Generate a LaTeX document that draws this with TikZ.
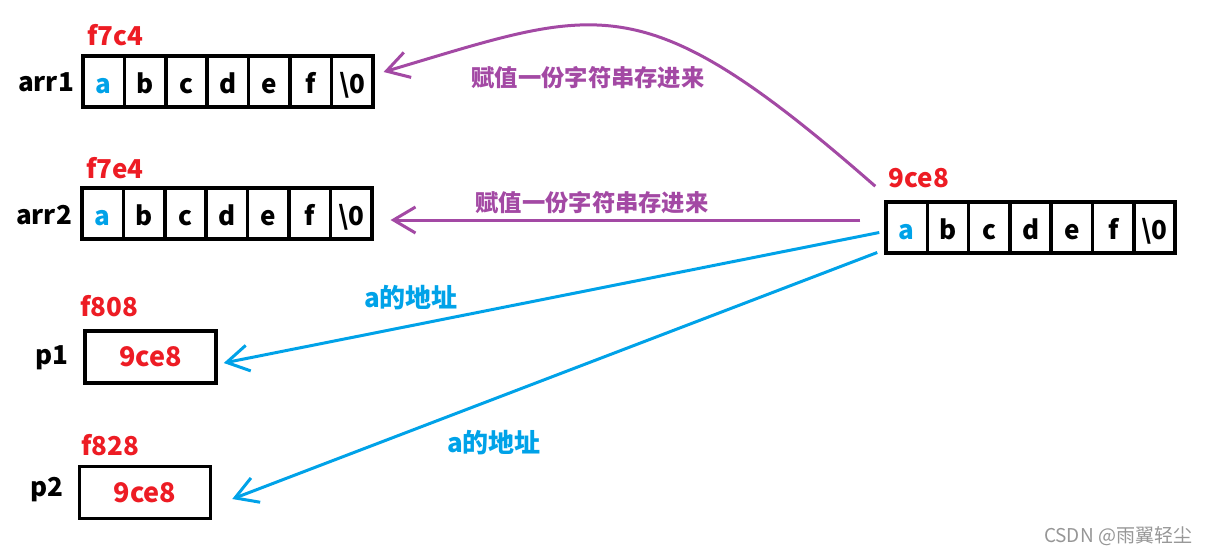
\documentclass[tikz,border=0pt]{standalone}
\usepackage{fontspec}
\setmainfont{Noto Sans CJK SC}
\usetikzlibrary{arrows.meta}
\definecolor{red}{RGB}{237,28,36}
\definecolor{blue}{RGB}{0,162,232}
\definecolor{purple}{RGB}{163,73,164}
\definecolor{gray}{RGB}{150,150,150}
\tikzset{
    cell/.style={draw, line width=3.5pt, minimum width=41.4pt, minimum height=51pt, inner sep=0pt,
        text height=23pt, text depth=0pt, font=\bfseries\fontsize{26}{26}\selectfont},
    ptr/.style={draw, line width=3.5pt, minimum width=131pt, minimum height=52pt, inner sep=0pt,
        text=red, font=\bfseries\fontsize{27}{27}\selectfont},
    lbl/.style={font=\bfseries\fontsize{26}{26}\selectfont},
    note/.style={font=\bfseries\fontsize{23.3}{23.3}\selectfont},
    tip/.style={line width=3pt, -{Straight Barb[length=22pt,width=26pt]}}
}

\begin{document}
\begin{tikzpicture}[x=1pt, y=-1pt]
    \useasboundingbox (0,0) rectangle (1212,554);
    % the three char arrays
    \foreach \ch/\col [count=\i] in {a/blue,b/black,c/black,d/black,e/black,f/black,\textbackslash0/black} {
        \node[cell, text=\col] (arr1-\i) at (62.3+41.4*\i, 81.5) {\ch};
        \node[cell, text=\col] (arr2-\i) at (61.3+41.4*\i, 213.5) {\ch};
        \node[cell, text=\col] (str-\i) at (865.4+41.3*\i, 227.5) {\ch};
    }
    \node[lbl] (arr1) at (46,82) {arr1};
    \node[lbl] (arr2) at (44,215) {arr2};
    \node[lbl, text=red] (addr1) at (115,35) {f7c4};
    \node[lbl, text=red] (addr2) at (115,168) {f7e4};
    \node[lbl, text=red] (addr3) at (919,178) {9ce8};
    % the two pointers
    \node[ptr] (p1) at (150.5,357) {9ce8};
    \node[ptr] (p2) at (145,492.5) {9ce8};
    \node[lbl] (p1name) at (52,358) {p1};
    \node[lbl] (p2name) at (47,490) {p2};
    \node[lbl, text=red] (addr4) at (109,306) {f808};
    \node[lbl, text=red] (addr5) at (110,445) {f828};
    % copies
    \draw[purple, tip] ([xshift=-9pt,yshift=14pt]str-1.north west) .. controls (640,-20) and (600,8) .. ([xshift=9pt,yshift=9.5pt]arr1-7.east);
    \draw[purple, tip] ([xshift=-24pt,yshift=7.5pt]str-1.west) -- ([xshift=17pt,yshift=-6.5pt]arr2-7.east);
    \node[note, text=purple] (copy1) at (588,78) {赋值一份字符串存进来};
    \node[note, text=purple] (copy2) at (592,203) {赋值一份字符串存进来};
    % addresses
    \draw[blue, tip] ([xshift=-5pt,yshift=-5pt]str-1.west) -- ([xshift=6pt,yshift=-6pt]p1.east);
    \draw[blue, tip] ([xshift=-7pt,yshift=-25pt]str-1.west) -- ([xshift=20pt,yshift=-6.5pt]p2.east);
    \node[lbl, text=blue] (addrof1) at (411,298) {a的地址};
    \node[lbl, text=blue] (addrof2) at (494,443) {a的地址};
    \node[text=gray, font=\fontsize{19}{19}\selectfont] (mark) at (1118,536) {CSDN @雨翼轻尘};
\end{tikzpicture}
\end{document}
